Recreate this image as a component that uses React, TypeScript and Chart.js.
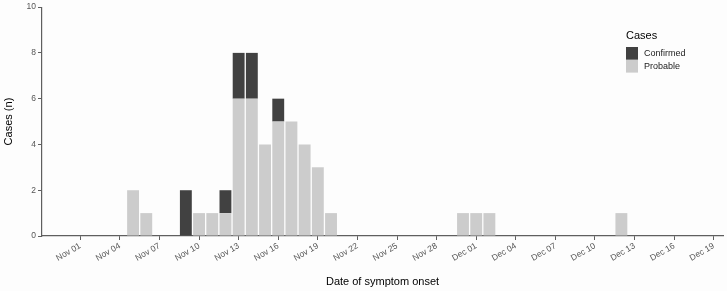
import React, { useEffect, useRef } from "react";
import { Chart, registerables } from "chart.js";

Chart.register(...registerables);

// Date of symptom onset (only days with cases)
const DATES = [
  "Nov 05", "Nov 06", "Nov 09", "Nov 10", "Nov 11", "Nov 12", "Nov 13", "Nov 14",
  "Nov 15", "Nov 16", "Nov 17", "Nov 18", "Nov 19", "Nov 20", "Nov 30", "Dec 01",
  "Dec 02", "Dec 12",
];
const CONFIRMED = [0, 0, 2, 0, 0, 1, 2, 2, 0, 1, 0, 0, 0, 0, 0, 0, 0, 0];
const PROBABLE = [2, 1, 0, 1, 1, 1, 6, 6, 4, 5, 5, 4, 3, 1, 1, 1, 1, 1];

const TICK_LABELS = [
  "Nov 01", "Nov 04", "Nov 07", "Nov 10", "Nov 13", "Nov 16", "Nov 19", "Nov 22",
  "Nov 25", "Nov 28", "Dec 01", "Dec 04", "Dec 07", "Dec 10", "Dec 13", "Dec 16", "Dec 19",
];
const Y_TICKS = [0, 2, 4, 6, 8, 10];

const SERIES_NAMES = ["Confirmed", "Probable"];
const COLORS = { Confirmed: "#414141", Probable: "#cccccc" };

// axis range in days relative to Nov 01
const X_MIN = -2.9;
const X_MAX = 48.7;

const FONT = "'Liberation Sans', Arial, Helvetica, sans-serif";

function dayIndex(label: string): number {
  const [mon, d] = label.split(" ");
  const day = parseInt(d, 10) - 1;
  return mon === "Dec" ? 30 + day : day;
}

const legendPlugin = {
  id: "customLegend",
  afterDraw(chart: any) {
    const ctx = chart.ctx;
    ctx.save();
    ctx.textBaseline = "middle";
    ctx.textAlign = "left";
    ctx.fillStyle = "#000";
    ctx.font = `11px ${FONT}`;
    ctx.fillText("Cases", 626, 36);
    SERIES_NAMES.forEach((name, i) => {
      const y = 47 + i * 12.8;
      ctx.fillStyle = (COLORS as any)[name];
      ctx.fillRect(626, y, 12, 12.8);
      ctx.fillStyle = "#222";
      ctx.font = `9px ${FONT}`;
      ctx.fillText(name, 644, y + 6.6);
    });
    ctx.restore();
  },
};

const bgPlugin = {
  id: "bg",
  beforeDraw(chart: any) {
    const ctx = chart.ctx;
    ctx.save();
    ctx.fillStyle = "#fdfdfd";
    ctx.fillRect(0, 0, chart.width, chart.height);
    ctx.restore();
  },
};

export default function App() {
  const ref = useRef<HTMLCanvasElement | null>(null);

  useEffect(() => {
    document.body.style.margin = "0";
    const xs = DATES.map(dayIndex);
    const tickValues = TICK_LABELS.map(dayIndex);
    const labelFor = new Map<number, string>();
    TICK_LABELS.forEach((l) => labelFor.set(dayIndex(l), l));

    const chart = new Chart(ref.current as HTMLCanvasElement, {
      type: "bar",
      data: {
        datasets: [
          {
            label: "Probable",
            data: xs.map((x, i) => ({ x, y: PROBABLE[i] })),
            backgroundColor: COLORS.Probable,
            borderWidth: 0,
            categoryPercentage: 1,
            barPercentage: 0.9,
          },
          {
            label: "Confirmed",
            data: xs.map((x, i) => ({ x, y: CONFIRMED[i] })),
            backgroundColor: COLORS.Confirmed,
            borderWidth: 0,
            categoryPercentage: 1,
            barPercentage: 0.9,
          },
        ],
      },
      options: {
        animation: false,
        responsive: false,
        layout: { padding: { top: 5, right: 4, left: 0, bottom: 0 } },
        plugins: { legend: { display: false }, tooltip: { enabled: false } },
        scales: {
          x: {
            type: "linear",
            stacked: true,
            offset: false,
            min: X_MIN,
            max: X_MAX,
            afterBuildTicks: (s: any) => {
              s.ticks = tickValues.map((v) => ({ value: v }));
            },
            afterFit: (s: any) => {
              s.height = 55;
            },
            ticks: {
              autoSkip: false,
              minRotation: 30,
              maxRotation: 30,
              padding: 1,
              color: "#555555",
              font: { family: FONT, size: 8.5 },
              callback: (v: any) => labelFor.get(v) ?? "",
            },
            grid: {
              offset: false,
              drawOnChartArea: false,
              drawTicks: true,
              tickLength: 4,
              color: "#5f5f5f",
              lineWidth: 1,
            },
            border: { display: true, color: "#5f5f5f", width: 1.2 },
            title: {
              display: true,
              text: "Date of symptom onset",
              color: "#000",
              font: { family: FONT, size: 11 },
              padding: { top: 0, bottom: 2.5 },
            },
          },
          y: {
            stacked: true,
            min: 0,
            max: 10,
            afterBuildTicks: (s: any) => {
              s.ticks = Y_TICKS.map((v) => ({ value: v }));
            },
            afterFit: (s: any) => {
              s.width = 42;
            },
            ticks: {
              padding: 2,
              color: "#555555",
              font: { family: FONT, size: 8.5 },
            },
            grid: {
              drawOnChartArea: false,
              drawTicks: true,
              tickLength: 4,
              color: "#5f5f5f",
              lineWidth: 1,
            },
            border: { display: true, color: "#5f5f5f", width: 1.2 },
            title: {
              display: true,
              text: "Cases (n)",
              color: "#000",
              font: { family: FONT, size: 11 },
              padding: { top: 2, bottom: 0 },
            },
          },
        },
      } as any,
      plugins: [bgPlugin, legendPlugin],
    });
    return () => chart.destroy();
  }, []);

  return (
    <div style={{ width: 727, height: 291 }}>
      <canvas ref={ref} width={727} height={291} />
    </div>
  );
}
